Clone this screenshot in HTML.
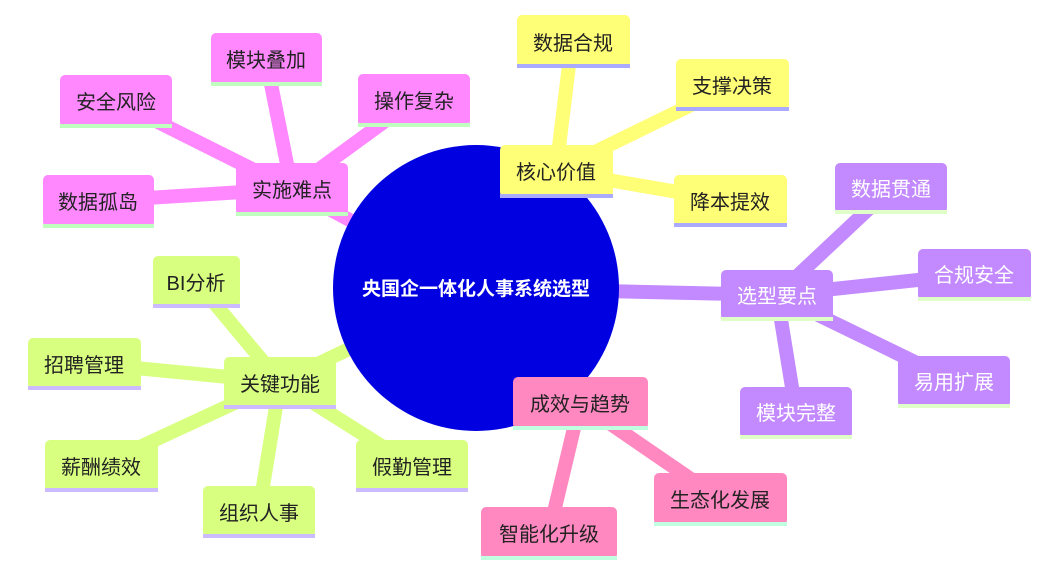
<!DOCTYPE html>
<html><head><meta charset="utf-8"><style>
html,body{margin:0;padding:0;background:#fff;}
svg{display:block;}
text{font-family:"Liberation Sans","Noto Sans CJK SC",sans-serif;font-size:20px;}
</style></head><body>
<svg width="1061" height="579" viewBox="0 0 1061 579" xmlns="http://www.w3.org/2000/svg">
<g stroke-linecap="round">
<g stroke="#ff88ff" stroke-width="14">
<line x1="476" y1="288" x2="292" y2="189"/>
<line x1="292" y1="189" x2="266" y2="59"/>
<line x1="292" y1="189" x2="116" y2="101"/>
<line x1="292" y1="189" x2="414" y2="100"/>
<line x1="292" y1="189" x2="98" y2="201"/>
</g>
<g stroke="#ffff77" stroke-width="14">
<line x1="476" y1="288" x2="556" y2="171"/>
<line x1="556" y1="171" x2="572" y2="41"/>
<line x1="556" y1="171" x2="732" y2="85"/>
<line x1="556" y1="171" x2="730" y2="201"/>
</g>
<g stroke="#c389ff" stroke-width="14">
<line x1="476" y1="288" x2="777" y2="295"/>
<line x1="777" y1="295" x2="891" y2="188"/>
<line x1="777" y1="295" x2="974" y2="274"/>
<line x1="777" y1="295" x2="954" y2="381"/>
<line x1="777" y1="295" x2="796" y2="412"/>
</g>
<g stroke="#ff88c0" stroke-width="14">
<line x1="476" y1="288" x2="580" y2="403"/>
<line x1="580" y1="403" x2="720" y2="499"/>
<line x1="580" y1="403" x2="549" y2="533"/>
</g>
<g stroke="#d8ff80" stroke-width="14">
<line x1="476" y1="288" x2="280" y2="382"/>
<line x1="280" y1="382" x2="196" y2="281"/>
<line x1="280" y1="382" x2="84" y2="363"/>
<line x1="280" y1="382" x2="101" y2="465"/>
<line x1="280" y1="382" x2="412" y2="465"/>
<line x1="280" y1="382" x2="259" y2="511"/>
</g>
</g>
<circle cx="476" cy="288" r="143" fill="#0000e0"/>
<text x="476" y="295" text-anchor="middle" fill="#fff" font-weight="bold" style="font-size:19px">央国企一体化人事系统选型</text>

<g>
<g fill="#ff88ff">
<rect x="211" y="33" width="111" height="52" rx="5"/>
<rect x="60" y="75" width="112" height="52" rx="5"/>
<rect x="358" y="74" width="112" height="52" rx="5"/>
<rect x="236" y="163" width="112" height="52" rx="5"/>
<rect x="43" y="175" width="111" height="52" rx="5"/>
</g>
<g fill="#c0ffc0">
<rect x="211" y="82" width="111" height="4"/>
<rect x="60" y="124" width="112" height="4"/>
<rect x="358" y="123" width="112" height="4"/>
<rect x="236" y="212" width="112" height="4"/>
<rect x="43" y="224" width="111" height="4"/>
</g>
<g fill="#222" text-anchor="middle">
<text x="266" y="67">模块叠加</text>
<text x="116" y="109">安全风险</text>
<text x="414" y="108">操作复杂</text>
<text x="292" y="197">实施难点</text>
<text x="98" y="209">数据孤岛</text>
</g>
<g fill="#ffff77">
<rect x="517" y="15" width="113" height="52" rx="5"/>
<rect x="676" y="59" width="113" height="51" rx="5"/>
<rect x="500" y="145" width="113" height="52" rx="5"/>
<rect x="674" y="175" width="113" height="51" rx="5"/>
</g>
<g fill="#aaaaff">
<rect x="517" y="64" width="113" height="4"/>
<rect x="676" y="107" width="113" height="4"/>
<rect x="500" y="194" width="113" height="4"/>
<rect x="674" y="223" width="113" height="4"/>
</g>
<g fill="#222" text-anchor="middle">
<text x="573" y="50">数据合规</text>
<text x="732" y="93">支撑决策</text>
<text x="556" y="179">核心价值</text>
<text x="730" y="209">降本提效</text>
</g>
<g fill="#c389ff">
<rect x="835" y="163" width="112" height="50" rx="5"/>
<rect x="918" y="249" width="113" height="51" rx="5"/>
<rect x="721" y="270" width="112" height="50" rx="5"/>
<rect x="898" y="356" width="112" height="51" rx="5"/>
<rect x="740" y="387" width="112" height="51" rx="5"/>
</g>
<g fill="#e0ffc8">
<rect x="835" y="210" width="112" height="4"/>
<rect x="918" y="297" width="113" height="4"/>
<rect x="721" y="317" width="112" height="4"/>
<rect x="898" y="404" width="112" height="4"/>
<rect x="740" y="435" width="112" height="4"/>
</g>
<g fill="#fff" text-anchor="middle">
<text x="891" y="196">数据贯通</text>
<text x="974" y="282">合规安全</text>
<text x="777" y="303">选型要点</text>
<text x="954" y="389">易用扩展</text>
<text x="796" y="420">模块完整</text>
</g>
<g fill="#ff88c0">
<rect x="513" y="377" width="135" height="52" rx="5"/>
<rect x="654" y="473" width="133" height="52" rx="5"/>
<rect x="481" y="507" width="136" height="52" rx="5"/>
</g>
<g fill="#c0ffe0">
<rect x="513" y="426" width="135" height="4"/>
<rect x="654" y="522" width="133" height="4"/>
<rect x="481" y="556" width="136" height="4"/>
</g>
<g fill="#222" text-anchor="middle">
<text x="580" y="411">成效与趋势</text>
<text x="720" y="507">生态化发展</text>
<text x="549" y="541">智能化升级</text>
</g>
<g fill="#d8ff80">
<rect x="153" y="256" width="87" height="51" rx="5"/>
<rect x="28" y="338" width="113" height="51" rx="5"/>
<rect x="224" y="357" width="112" height="51" rx="5"/>
<rect x="45" y="440" width="113" height="51" rx="5"/>
<rect x="356" y="440" width="112" height="51" rx="5"/>
<rect x="203" y="486" width="112" height="51" rx="5"/>
</g>
<g fill="#ccbbff">
<rect x="153" y="304" width="87" height="4"/>
<rect x="28" y="386" width="113" height="4"/>
<rect x="224" y="405" width="112" height="4"/>
<rect x="45" y="488" width="113" height="4"/>
<rect x="356" y="488" width="112" height="4"/>
<rect x="203" y="534" width="112" height="4"/>
</g>
<g fill="#222" text-anchor="middle">
<text x="196" y="290">BI分析</text>
<text x="84" y="372">招聘管理</text>
<text x="280" y="391">关键功能</text>
<text x="101" y="474">薪酬绩效</text>
<text x="412" y="474">假勤管理</text>
<text x="259" y="520">组织人事</text>
</g>
</g>
</svg>
</body></html>
